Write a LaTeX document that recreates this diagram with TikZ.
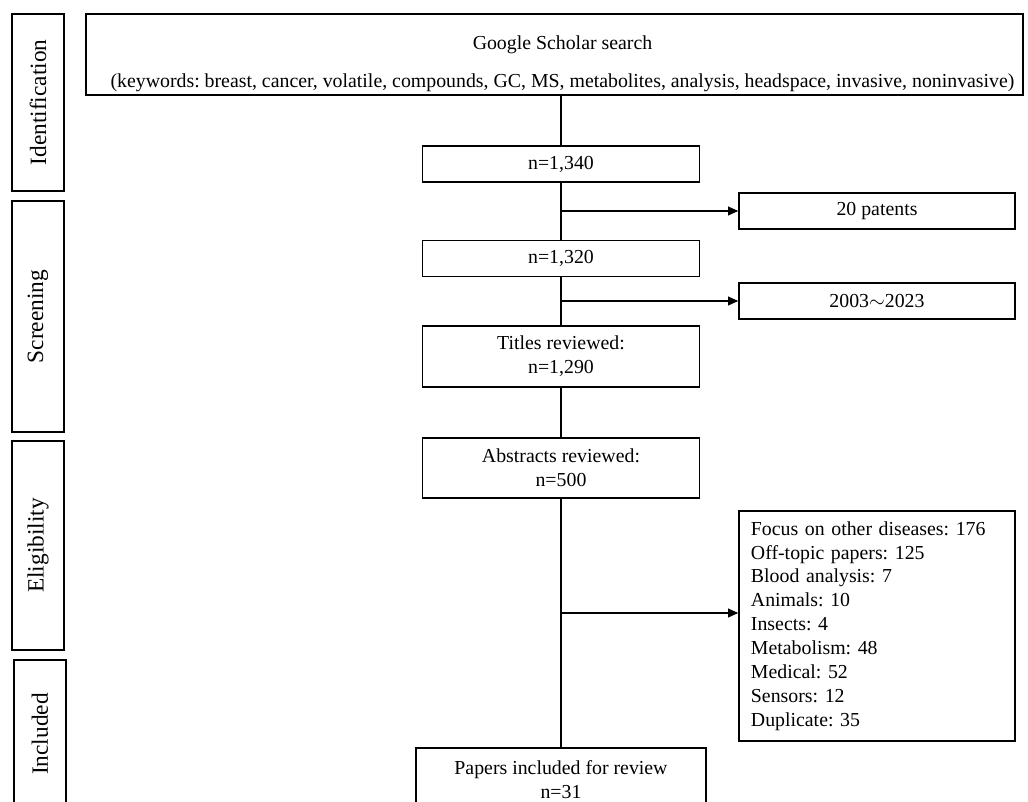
\documentclass[tikz,border=0pt]{standalone}
\usepackage{fontspec}
\setmainfont{Liberation Serif}
\usetikzlibrary{arrows.meta}
\frenchspacing

\begin{document}
\begin{tikzpicture}[x=0.025cm, y=-0.025cm,
    every node/.style = {draw, line width=1.1pt, align=center,
      font=\fontsize{14.1}{17}\selectfont, inner sep=0pt},
    line/.style = {line width=0.8pt},
    arr/.style = {line width=0.8pt, -{Triangle[length=2.5mm,width=2.2mm]}}]
    \tikzstyle{phase}=[minimum height=1.3cm, rotate=90, font=\fontsize{16.6}{20}\selectfont]
    \tikzstyle{block}=[minimum width=6.925cm, minimum height=0.9cm]
    \tikzstyle{side}=[minimum width=6.9cm, minimum height=0.9cm]

    \path[use as bounding box, clip] (0,0) rectangle (1028,802);

    % stages
    \node[phase, minimum width=4.425cm] (ident) at (38,102.5) {Identification};
    \node[phase, minimum width=5.775cm] (screen) at (38,316.5) {Screening};
    \node[phase, minimum width=5.225cm] (elig) at (38,545.5) {Eligibility};
    \node[phase, minimum width=3.7cm] (incl) at (40,734) {Included};

    % main column
    \node[minimum width=23.425cm, minimum height=2.025cm] (search) at (554.5,54.5)
      {\hspace*{0.4cm}\rule{0pt}{22.5pt}Google Scholar search\\[10pt]\hspace*{0.4cm}(keywords: breast, cancer, volatile, compounds, GC, MS, metabolites, analysis, headspace, invasive, noninvasive)};
    \node[block] (n1340) at (561,164) {n=1,340};
    \node[block] (n1320) at (561,258.5) {n=1,320};
    \node[block, minimum height=1.525cm] (titles) at (561,356.5) {Titles reviewed:\\n=1,290};
    \node[block, minimum height=1.5cm] (abstracts) at (561,468) {Abstracts reviewed:\\n=500};
    \node[block, minimum width=7.25cm, minimum height=1.575cm] (papers) at (561,779.5)
      {Papers included for review\\n=31};

    % excluded
    \node[side] (patents) at (877,211) {20 patents};
    \node[side] (years) at (877,301) {2003$\sim$2023};
    \node[side, minimum height=5.75cm, inner xsep=0.3cm, text width=6.3cm, align=left] (excl) at (877,626)
      {Focus on other diseases: 176\\Off-topic papers: 125\\Blood analysis: 7\\Animals: 10\\Insects: 4\\
       Metabolism: 48\\Medical: 52\\Sensors: 12\\Duplicate: 35};

    \coordinate (split) at (561,613);

    \draw[line] (search.south -| n1340.north) -- (n1340.north);
    \draw[line] (n1340) -- (n1320);
    \draw[arr] (n1340.south |- patents) -- (patents);
    \draw[line] (n1320) -- (titles);
    \draw[arr] (n1320.south |- years) -- (years);
    \draw[line] (titles) -- (abstracts);
    \draw[line] (abstracts) -- (papers);
    \draw[arr] (split) -- (split -| excl.west);
\end{tikzpicture}
\end{document}
